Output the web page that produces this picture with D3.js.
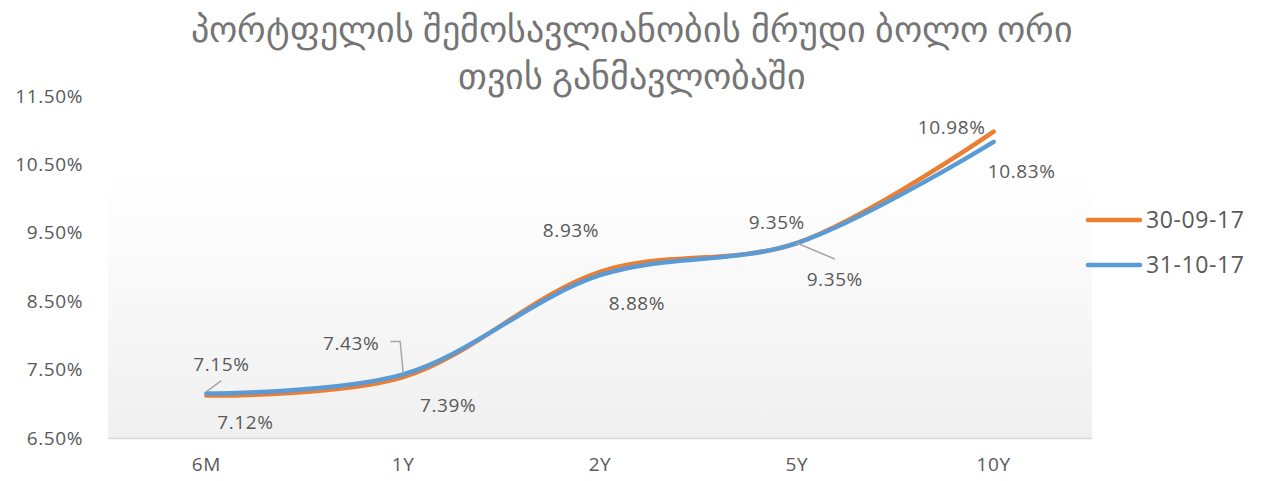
<!DOCTYPE html>
<html>
<head>
<meta charset="utf-8">
<script src="https://cdn.jsdelivr.net/npm/d3@7"></script>
<style>
    body { margin: 0; background: #fff; }
    text { font-family: 'Open Sans', 'Noto Sans', sans-serif; }
</style>
</head>
<body>
<div id="chart"></div>
<script>
// chart data
var titleLines = ['პორტფელის შემოსავლიანობის მრუდი ბოლო ორი', 'თვის განმავლობაში'];
var categories = ['6M', '1Y', '2Y', '5Y', '10Y'];
var seriesNames = ['30-09-17', '31-10-17'];
var sep17 = [7.12, 7.39, 8.93, 9.35, 10.98];
var oct17 = [7.15, 7.43, 8.88, 9.35, 10.83];
var yTicks = [6.5, 7.5, 8.5, 9.5, 10.5, 11.5];

// where each data label sits relative to its point (px)
var sepLabelOffset = [[39, 27], [45, 28], [-29, -41], [-20, -21], [-42, -4]];
var octLabelOffset = [[15, -29], [-52, -31], [37, 28], [38, 36], [28, 30]];

var width = 1263;
var height = 481;
var margin = { top: 96, right: 171, bottom: 43, left: 108 };

var svg = d3.select('#chart')
    .append('svg')
    .attr('width', width)
    .attr('height', height);

var x = d3.scaleBand()
    .domain(categories)
    .range([margin.left, width - margin.right]);

var y = d3.scaleLinear()
    .domain([6.5, 11.5])
    .range([height - margin.bottom, margin.top]);

var defs = svg.append('defs');
var grad = defs.append('linearGradient')
    .attr('id', 'plotBg')
    .attr('x1', 0).attr('y1', 0).attr('x2', 0).attr('y2', 1);
grad.append('stop').attr('offset', '0%').attr('stop-color', '#ffffff');
grad.append('stop').attr('offset', '100%').attr('stop-color', '#f0f0f0');

// plot area background (lower part only, like the original)
svg.append('rect')
    .attr('x', margin.left)
    .attr('y', y(10.38))
    .attr('width', x.range()[1] - margin.left)
    .attr('height', y(6.5) - y(10.38))
    .attr('fill', 'url(#plotBg)');

// title
svg.append('g')
    .selectAll('text')
    .data(titleLines)
    .join('text')
    .attr('x', 632)
    .attr('y', (d, i) => 42 + i * 47)
    .attr('text-anchor', 'middle')
    .attr('font-family', 'DejaVu Sans')
    .attr('font-size', 36)
    .attr('fill', '#757575')
    .text(d => d);

var labelFont = g => g
    .attr('font-size', 19)
    .attr('letter-spacing', 0.6)
    .attr('font-family', null)
    .attr('fill', '#595959');

// y axis
var yAxis = g => g
    .attr('transform', `translate(${margin.left - 22},0)`)
    .call(d3.axisLeft(y).tickValues(yTicks).tickSize(0)
        .tickFormat(d => d.toFixed(2) + '%'))
    .call(g => g.select('.domain').remove())
    .call(g => g.selectAll('text').call(labelFont));

svg.append('g').call(yAxis);

// x axis
var xAxis = g => g
    .attr('transform', `translate(0,${height - margin.bottom})`)
    .call(d3.axisBottom(x).tickSize(0).tickPadding(20))
    .call(g => g.select('.domain')
        .attr('stroke', '#d9d9d9')
        .attr('stroke-width', 1.5))
    .call(g => g.selectAll('text').call(labelFont));

svg.append('g').call(xAxis);

var cx = d => x(d) + x.bandwidth() / 2;

var line = d3.line()
    .curve(d3.curveCatmullRom.alpha(0.5))
    .x((d, i) => cx(categories[i]))
    .y(d => y(d));

var series = [
    { name: seriesNames[0], values: sep17, color: '#ed7d31', offs: sepLabelOffset },
    { name: seriesNames[1], values: oct17, color: '#5b9bd5', offs: octLabelOffset }
];

series.forEach(s => {
    svg.append('path')
        .datum(s.values)
        .attr('fill', 'none')
        .attr('stroke', s.color)
        .attr('stroke-width', 4.5)
        .attr('stroke-linejoin', 'round')
        .attr('stroke-linecap', 'round')
        .attr('d', line);
});

// leader lines for labels that sit away from their point
var leaders = [
    { s: 1, i: 0, pts: [[0, -2], [15, -13]] },
    { s: 1, i: 1, pts: [[0, -1], [-3, -33], [-13, -33]] },
    { s: 1, i: 3, pts: [[0, 0], [38, 16]] }
];
leaders.forEach(l => {
    var px = cx(categories[l.i]);
    var py = y(series[l.s].values[l.i]);
    svg.append('path')
        .attr('d', d3.line()(l.pts.map(p => [px + p[0], py + p[1]])))
        .attr('fill', 'none')
        .attr('stroke', '#a6a6a6')
        .attr('stroke-width', 1.5);
});

// data labels
series.forEach(s => {
    svg.append('g')
        .selectAll('text')
        .data(s.values)
        .join('text')
        .attr('x', (d, i) => cx(categories[i]) + s.offs[i][0])
        .attr('y', (d, i) => y(d) + s.offs[i][1])
        .attr('dy', '0.35em')
        .attr('text-anchor', 'middle')
        .text(d => d.toFixed(2) + '%')
        .call(labelFont);
});

// legend
var legend = svg.append('g')
    .selectAll('g')
    .data(series)
    .join('g')
    .attr('transform', (d, i) => `translate(1088,${220 + i * 45})`);

legend.append('line')
    .attr('x1', 0).attr('x2', 52)
    .attr('stroke', d => d.color)
    .attr('stroke-width', 4.5)
    .attr('stroke-linecap', 'round');

legend.append('text')
    .attr('x', 58)
    .attr('dy', '0.35em')
    .attr('font-size', 23)
    .attr('letter-spacing', 0.6)
    .attr('fill', '#595959')
    .text(d => d.name);
</script>
</body>
</html>
